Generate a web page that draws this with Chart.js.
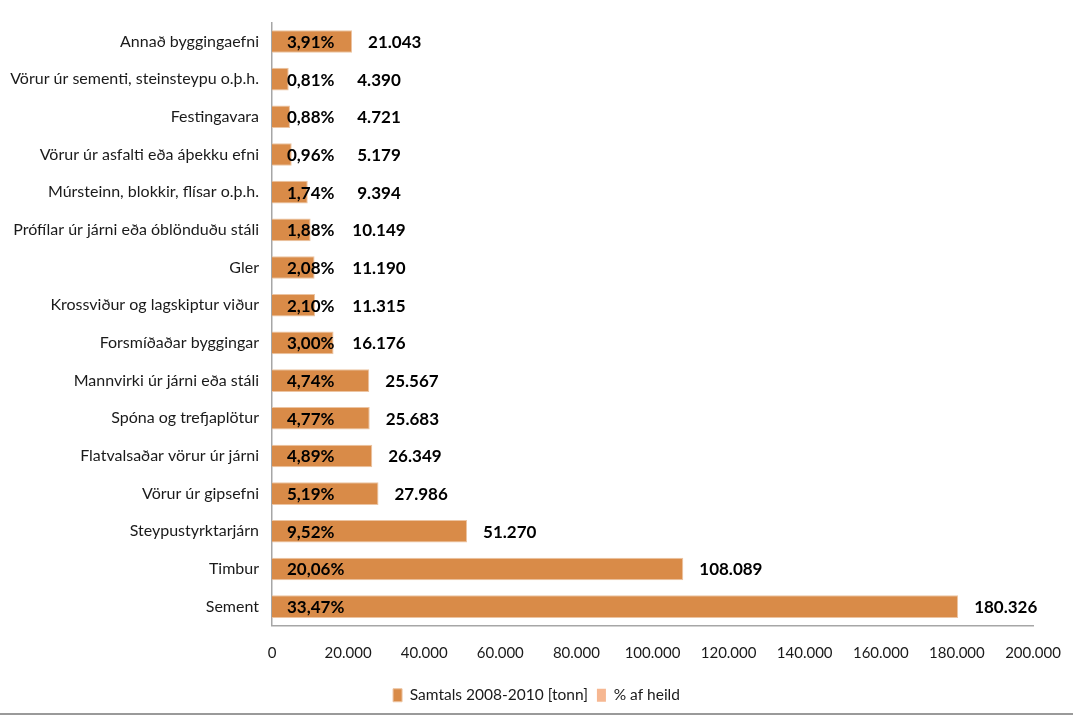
<!DOCTYPE html>
<html>
<head>
<meta charset="utf-8">
<script src="https://cdn.jsdelivr.net/npm/chart.js@4.4.1/dist/chart.umd.min.js"></script>
</head>
<body style="margin:0;background:#fff;">
<div style="width:1073px;height:713px;border-bottom:2px solid #9a9a9a;">
<canvas id="byggChart" width="1073" height="713"></canvas>
</div>

<script>
var categories = ['Annað byggingaefni', 'Vörur úr sementi, steinsteypu o.þ.h.', 'Festingavara',
  'Vörur úr asfalti eða áþekku efni', 'Múrsteinn, blokkir, flísar o.þ.h.', 'Prófílar úr járni eða óblönduðu stáli',
  'Gler', 'Krossviður og lagskiptur viður', 'Forsmíðaðar byggingar', 'Mannvirki úr járni eða stáli',
  'Spóna og trefjaplötur', 'Flatvalsaðar vörur úr járni', 'Vörur úr gipsefni', 'Steypustyrktarjárn',
  'Timbur', 'Sement'];
var tonn = [21043, 4390, 4721, 5179, 9394, 10149, 11190, 11315, 16176, 25567, 25683, 26349, 27986, 51270, 108089, 180326];
var pctAfHeild = [3.91, 0.81, 0.88, 0.96, 1.74, 1.88, 2.08, 2.10, 3.00, 4.74, 4.77, 4.89, 5.19, 9.52, 20.06, 33.47];
var xTicks = [0, 20000, 40000, 60000, 80000, 100000, 120000, 140000, 160000, 180000, 200000];

var FONT = 'Lato, "Liberation Sans", sans-serif';

function fmtIs(v) {
  return String(v).replace(/\B(?=(\d{3})+(?!\d))/g, '.');
}

var labelPlugin = {
  id: 'barLabels',
  afterDatasetsDraw: function(chart) {
    var ctx = chart.ctx;
    var meta = chart.getDatasetMeta(0);
    var x0 = chart.scales.x.getPixelForValue(0);
    ctx.save();
    ctx.fillStyle = '#000';
    ctx.font = 'bold 17px ' + FONT;
    ctx.textBaseline = 'middle';
    meta.data.forEach(function(bar, i) {
      ctx.textAlign = 'left';
      ctx.fillText(pctAfHeild[i].toFixed(2).replace('.', ',') + '%', x0 + 15, bar.y + 1);
      var txt = fmtIs(tonn[i]);
      var w = ctx.measureText(txt).width;
      var cx = Math.max(bar.x + 16 + w / 2, 379);
      ctx.textAlign = 'center';
      ctx.fillText(txt, cx, bar.y + 1);
    });
    ctx.restore();
  }
};

new Chart('byggChart', {
  type: 'bar',
  data: {
    labels: categories,
    datasets: [{
      label: 'Samtals 2008-2010 [tonn]',
      data: tonn,
      backgroundColor: '#d98b48',
      borderColor: '#ecc4a2',
      borderWidth: 1,
      borderSkipped: 'start',
      grouped: false,
      categoryPercentage: 0.6,
      barPercentage: 1
    }, {
      label: '% af heild',
      data: pctAfHeild,
      backgroundColor: '#f6b791',
      grouped: false,
      categoryPercentage: 0.6,
      barPercentage: 1
    }]
  },
  options: {
    indexAxis: 'y',
    responsive: false,
    animation: false,
    layout: { padding: { top: 13, right: 0, left: 0, bottom: 0 } },
    scales: {
      x: {
        min: 0,
        max: 200000,
        afterBuildTicks: function(scale) {
          scale.ticks = xTicks.map(function(v) { return { value: v }; });
        },
        afterFit: function(scale) {
          scale.paddingRight = 40;
          scale.paddingLeft = 0;
          scale.height = scale.height - 3;
        },
        grid: { display: false, drawTicks: false },
        border: { display: true, color: '#a6a6a6', width: 1.5 },
        ticks: {
          padding: 19,
          color: '#1a1a1a',
          font: { family: FONT, size: 15 },
          maxRotation: 0,
          callback: function(v) { return fmtIs(v); }
        }
      },
      y: {
        afterFit: function(scale) { scale.width = 272; },
        grid: { display: false, drawTicks: false },
        border: { display: true, color: '#a6a6a6', width: 1.5 },
        ticks: {
          padding: 13,
          color: '#1a1a1a',
          font: { family: FONT, size: 16 }
        }
      }
    },
    plugins: {
      legend: {
        position: 'bottom',
        labels: {
          boxWidth: 9,
          boxHeight: 13,
          padding: 9,
          color: '#1a1a1a',
          font: { family: FONT, size: 15.5 }
        }
      },
      tooltip: { enabled: false }
    }
  },
  plugins: [labelPlugin]
});
</script>
</body>
</html>
